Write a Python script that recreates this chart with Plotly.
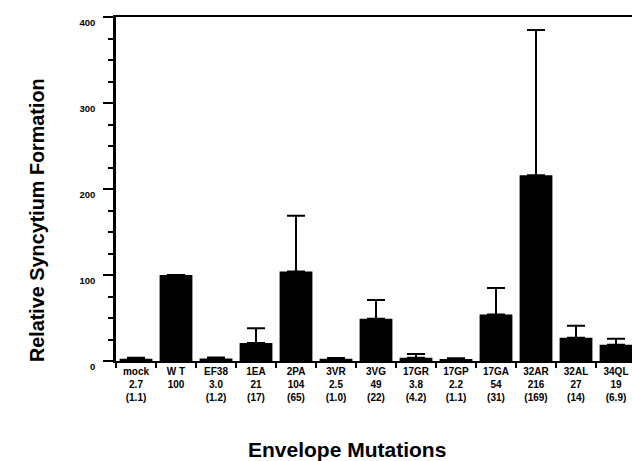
import plotly.graph_objects as go

categories = ["mock", "WT", "EF38", "1EA", "2PA", "3VR", "3VG", "17GR", "17GP", "17GA", "32AR", "32AL", "34QL"]
value_labels = ["2.7", "100", "3.0", "21", "104", "2.5", "49", "3.8", "2.2", "54", "216", "27", "19"]
sd_labels = ["(1.1)", "", "(1.2)", "(17)", "(65)", "(1.0)", "(22)", "(4.2)", "(1.1)", "(31)", "(169)", "(14)", "(6.9)"]
values = [2.7, 100, 3.0, 21, 104, 2.5, 49, 3.8, 2.2, 54, 216, 27, 19]
errors = [1.1, 0, 1.2, 17, 65, 1.0, 22, 4.2, 1.1, 31, 169, 14, 6.9]
y_ticks = [0, 100, 200, 300, 400]

ticktext = []
for c, v, s in zip(categories, value_labels, sd_labels):
    name = "W T" if c == "WT" else c
    ticktext.append(f"<b>{name}<br>{v}<br>{s if s else ' '}</b>")

fig = go.Figure()
fig.add_trace(go.Bar(
    x=categories, y=values, width=0.82,
    marker=dict(color="black", line=dict(width=0)),
    error_y=dict(type="data", array=errors, arrayminus=[0]*len(errors), symmetric=False,
                 color="black", thickness=2, width=9),
))

font = "Liberation Sans, Arial, sans-serif"
fig.update_layout(
    width=632, height=461,
    margin=dict(l=116, r=0, t=17, b=100, autoexpand=False),
    paper_bgcolor="white", plot_bgcolor="white",
    showlegend=False,
    font=dict(family=font, color="black"),
    xaxis=dict(
        type="category", tickmode="array", tickvals=categories, ticktext=ticktext,
        tickson="boundaries", ticks="outside", ticklen=5, tickwidth=2, tickcolor="black",
        showline=True, linecolor="black", linewidth=2, mirror=True,
        tickfont=dict(size=10, family=font), showgrid=False, automargin=False,
        range=[-0.5, 12.4],
    ),
    yaxis=dict(
        range=[0, 400], tickvals=y_ticks, ticktext=[f"<b>{t}</b>" for t in y_ticks],
        ticks="outside", ticklen=10, tickwidth=2, tickcolor="black",
        showline=True, linecolor="black", linewidth=2.5, showgrid=False, zeroline=False,
        tickfont=dict(size=9.5, family=font), ticklabelstandoff=6, ticklabelshift=6,
        automargin=False,
        minor=dict(dtick=25, ticks="outside", ticklen=5, tickcolor="black", tickwidth=1.5, showgrid=False),
    ),
)
fig.add_annotation(
    text="<b>Envelope Mutations</b>", xref="paper", yref="paper", x=0.447, y=-0.256,
    xanchor="center", yanchor="middle", showarrow=False, font=dict(size=21, family=font),
)
fig.add_annotation(
    text="<b>Relative Syncytium Formation</b>", xref="paper", yref="paper", x=-0.153, y=0.41,
    xanchor="center", yanchor="middle", textangle=-90, showarrow=False, font=dict(size=19.8, family=font),
)
fig.write_html(
    "out.html",
    config={"displayModeBar": False},
    post_script="document.body.style.margin='0';document.body.style.overflow='hidden';",
)
